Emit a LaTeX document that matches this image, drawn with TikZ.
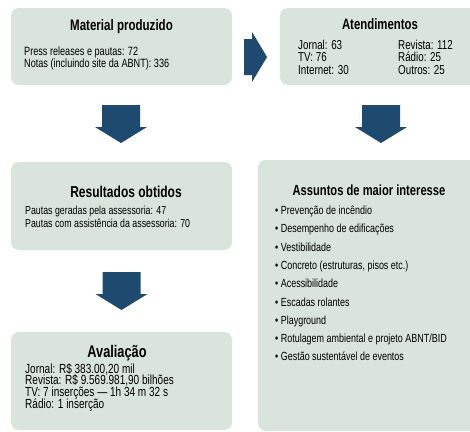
\documentclass[tikz,border=0pt]{standalone}
\usepackage{fontspec}
\setmainfont[FakeStretch=0.76]{Liberation Sans}
\usepackage{tikz}
\definecolor{panelgreen}{RGB}{216,228,220}
\definecolor{arrowblue}{RGB}{29,74,110}
\def\downpiece{-- ++(19,0) -- ++(0,22) -- ++(7,0) -- ++(-26,16) -- ++(-26,-16) -- ++(7,0) -- ++(0,-22) -- cycle}
\def\rightpiece{-- ++(0,-18) -- ++(8,0) -- ++(0,-7) -- ++(15,25) -- ++(-15,25) -- ++(0,-7) -- ++(-8,0) -- cycle}
\tikzset{
  panel/.style={fill=panelgreen, rounded corners=8pt},
  heading/.style={font=\bfseries\fontsize{#1}{#1}\selectfont, anchor=base, inner sep=0pt},
  heading/.default=15.2,
  bodyline/.style={font=\fontsize{#1}{#1}\selectfont, anchor=base west, inner sep=0pt},
  bodyline/.default=12,
  bigarrow/.style={fill=arrowblue}
}

\begin{document}
\begin{tikzpicture}[x=1pt,y=-1pt]
                \clip (0,0) rectangle (470,431);
                % panels
                \path[panel] (11,8) rectangle (232,85);
                \path[panel] (280,8) rectangle (480,85);
                \path[panel] (11,162) rectangle (232,250);
                \path[panel] (258,160) rectangle (480,431);
                \path[panel] (11,332) rectangle (232,430);
                % arrows
                \fill[bigarrow] (244,57) \rightpiece;
                \fill[bigarrow] (121,105) \downpiece;
                \fill[bigarrow] (381,105) \downpiece;
                \fill[bigarrow] (121.5,272) \downpiece;
                % material produzido
                \node[heading] (matT) at (121.5,30) {Material produzido};
                \node[bodyline] (mat1) at (24,55) {Press releases e pautas: 72};
                \node[bodyline] (mat2) at (24,67.5) {Notas (incluindo site da ABNT): 336};
                % atendimentos
                \node[heading=15] (atT) at (380,29) {Atendimentos};
                \node[bodyline=12.9] (at1) at (298,49) {Jornal: 63};
                \node[bodyline=12.9] (at2) at (298,61.5) {TV: 76};
                \node[bodyline=12.9] (at3) at (298,74) {Internet: 30};
                \node[bodyline=12.9] (at4) at (398,49) {Revista: 112};
                \node[bodyline=12.9] (at5) at (398,61.5) {Rádio: 25};
                \node[bodyline=12.9] (at6) at (398,74) {Outros: 25};
                % resultados obtidos
                \node[heading=15.8] (resT) at (126,197) {Resultados obtidos};
                \node[bodyline=11.6] (res1) at (25,214.5) {Pautas geradas pela assessoria: 47};
                \node[bodyline=11.6] (res2) at (25,227) {Pautas com assistência da assessoria: 70};
                % assuntos de maior interesse
                \node[heading=14.7] (asT) at (369,195) {Assuntos de maior interesse};
                \foreach \topic [count=\i] in {Prevenção de incêndio, Desempenho de edificações,
                    Vestibilidade, {Concreto (estruturas, pisos etc.)}, Acessibilidade,
                    Escadas rolantes, Playground, Rotulagem ambiental e projeto ABNT/BID,
                    Gestão sustentável de eventos}
                  \node[bodyline=11.8] (as\i) at (275,214.5+18.3*\i-18.3) {\textbullet\ \topic};
                % avaliacao
                \node[heading=16.8] (avT) at (117,357) {Avaliação};
                \node[bodyline=13.2] (av1) at (25,373) {Jornal: R\$ 383.00,20 mil};
                \node[bodyline=13.2] (av2) at (25,384.8) {Revista: R\$ 9.569.981,90 bilhões};
                \node[bodyline=13.2] (av3) at (25,396.6) {TV: 7 inserções --- 1h 34 m 32 s};
                \node[bodyline=13.2] (av4) at (25,408.4) {Rádio: 1 inserção};
            \end{tikzpicture}
\end{document}
